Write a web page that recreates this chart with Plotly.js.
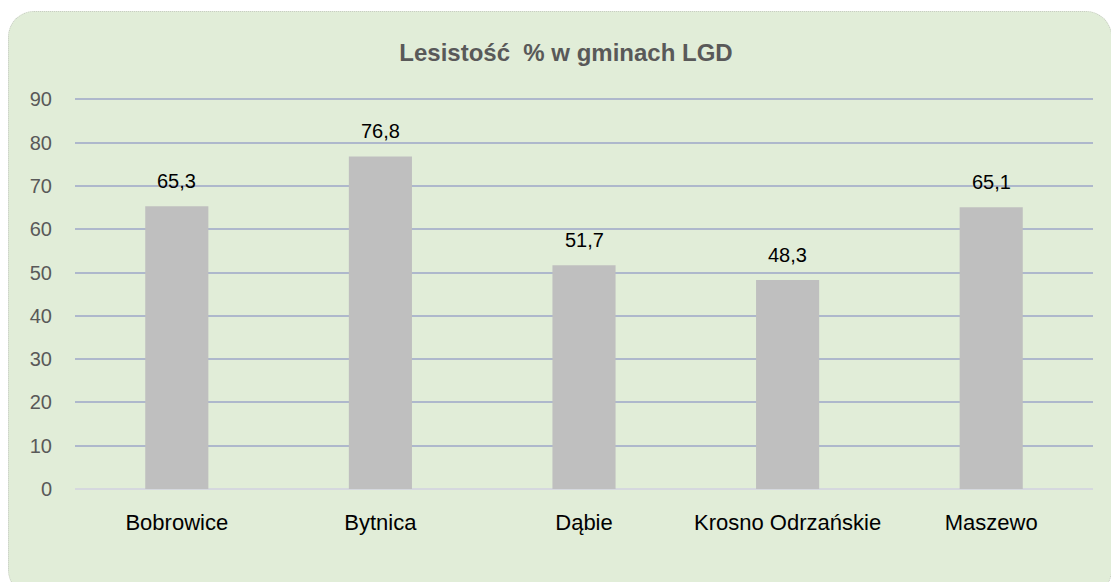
<!DOCTYPE html>
<html>
<head>
<meta charset="utf-8">
<script src="https://cdn.plot.ly/plotly-3.0.1.min.js"></script>
<style>
  html, body { margin:0; padding:0; background:#ffffff; width:1111px; height:582px; overflow:hidden; }
  #panel { position:absolute; left:8px; top:11px; width:1104px; height:585px; background:#E1EDD8;
           border-radius:26px; border:1px dotted #C8CCC4; box-sizing:border-box; }
  #chart { position:absolute; left:0; top:0; width:1111px; height:582px; }
</style>
</head>
<body>
<div id="panel"></div>
<div id="chart"></div>
<script>
const categories = ["Bobrowice", "Bytnica", "Dąbie", "Krosno Odrzańskie", "Maszewo"];
const values = [65.3, 76.8, 51.7, 48.3, 65.1];
const valueLabels = ["65,3", "76,8", "51,7", "48,3", "65,1"];
const yTicks = [0, 10, 20, 30, 40, 50, 60, 70, 80, 90];

const FONT = "Liberation Sans, Arial, sans-serif";

const trace = {
  type: "bar",
  x: categories,
  y: values,
  marker: { color: "#BFBFBF" },
  hoverinfo: "none"
};

const annotations = categories.map((c, i) => ({
  x: c, y: values[i], xref: "x", yref: "y",
  text: valueLabels[i],
  showarrow: false,
  yanchor: "bottom",
  yshift: 12,
  font: { family: FONT, size: 20, color: "#000000" }
}));

const layout = {
  width: 1111,
  height: 582,
  paper_bgcolor: "rgba(0,0,0,0)",
  plot_bgcolor: "rgba(0,0,0,0)",
  margin: { l: 75, r: 18, t: 95, b: 93 },
  bargap: 0.69,
  showlegend: false,
  annotations: annotations,
  title: {
    text: "<b>Lesistość  % w gminach LGD</b>",
    font: { family: FONT, size: 24, color: "#595959" },
    x: 566 / 1111, xanchor: "center", xref: "container",
    y: 1 - 53 / 582, yanchor: "middle", yref: "container"
  },
  xaxis: {
    type: "category",
    tickfont: { family: FONT, size: 22, color: "#000000" },
    showline: false,
    ticks: "",
    ticklabelstandoff: 18,
    showgrid: false,
    zeroline: false
  },
  yaxis: {
    range: [0, 91],
    tickvals: yTicks,
    ticktext: yTicks.map(String),
    tickfont: { family: FONT, size: 20, color: "#595959" },
    showgrid: true,
    gridcolor: "#AEB8CC",
    gridwidth: 2,
    zeroline: true,
    zerolinecolor: "#D5D8DE",
    zerolinewidth: 2,
    showline: false,
    ticks: "",
    ticklabelstandoff: 22
  }
};

Plotly.newPlot("chart", [trace], layout, { staticPlot: true, displayModeBar: false });
</script>
</body>
</html>
